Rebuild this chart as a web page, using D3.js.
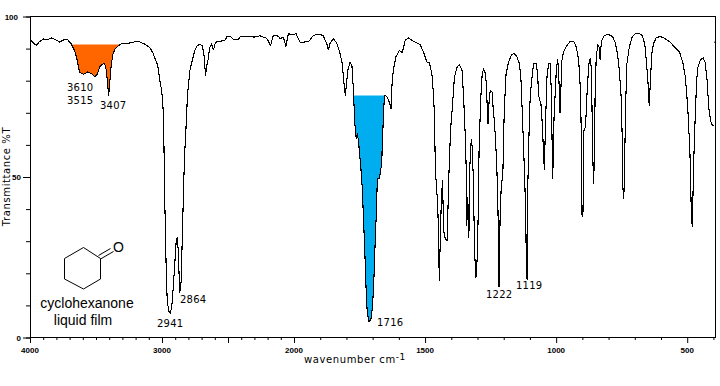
<!DOCTYPE html>
<html>
<head>
<meta charset="utf-8">
<script src="https://cdn.jsdelivr.net/npm/d3@7"></script>
<style>
  html, body { margin: 0; padding: 0; background: #fff; }
  svg { display: block; }
  .tickLabel { font: bold 8px "Liberation Sans", sans-serif; fill: #000; }
  .peak { font: 10px "DejaVu Sans", sans-serif; letter-spacing: 0.25px; fill: #000; }
  .title { font: 10px "DejaVu Sans", sans-serif; letter-spacing: 0.6px; fill: #000; }
  .name { font: 14px "Liberation Sans", sans-serif; fill: #000; }
</style>
</head>
<body>
<div id="chart-container"></div>
<script>
// trace: wavenumber (cm-1) and %T, same order
const wavenumbers = [
  4000,3989,3953,3928,3898,3867,3837,3806,3776,3746,3715,3685,3662,3647,3624,3594,3564,3533,3510,3488,
  3472,3442,3427,3416,3404,3397,3389,3374,3359,3328,3306,3260,3207,3169,3131,3093,3070,3047,3032,3017,
  3002,2991,2987,2979,2966,2960,2949,2937,2926,2919,2903,2892,2884,2877,2869,2865,2854,2850,2843,2835,
  2827,2820,2807,2789,2769,2751,2734,2713,2696,2683,2670,2663,2650,2638,2625,2610,2594,2562,2524,2506,
  2486,2461,2423,2405,2296,2258,2207,2177,2157,2119,2106,2081,2061,2043,2017,1992,1977,1965,1943,1926,
  1913,1890,1875,1869,1863,1850,1837,1824,1816,1809,1804,1795,1786,1779,1774,1768,1763,1758,1753,1751,
  1745,1739,1735,1730,1725,1721,1715,1707,1701,1696,1692,1686,1682,1674,1665,1664,1659,1655,1646,1636,
  1630,1626,1621,1612,1598,1587,1576,1564,1545,1519,1506,1493,1483,1474,1468,1464,1462,1459,1452,1448,
  1446,1442,1439,1434,1432,1429,1423,1416,1414,1410,1407,1403,1397,1388,1378,1369,1359,1353,1346,1343,
  1342,1341,1337,1333,1331,1330,1324,1320,1317,1314,1310,1306,1301,1297,1294,1288,1282,1277,1269,1266,
  1260,1255,1251,1244,1241,1236,1231,1226,1223,1220,1218,1214,1210,1203,1198,1191,1182,1169,1160,1150,
  1140,1134,1128,1121,1116,1114,1111,1109,1105,1101,1095,1086,1077,1070,1068,1064,1058,1053,1045,1041,
  1035,1029,1023,1019,1013,1008,1000,995,991,985,978,972,959,946,933,923,914,908,905,904,
  901,897,895,894,888,881,875,870,866,864,861,857,854,851,847,841,836,832,830,826,
  816,801,785,775,766,759,752,748,746,743,739,738,734,730,721,710,698,685,672,662,
  656,650,645,641,635,629,618,603,584,565,546,529,516,507,498,490,488,485,481,479,
  475,470,464,459,450,439,432,424,418,411,405,399
];
const transmittance = [
  93.1,92.4,91.0,92.2,93.0,92.8,93.3,92.8,92.0,92.7,92.8,91.3,89.4,87.2,82.6,82.0,82.7,82.2,81.2,82.2,
  84.4,85.4,84.7,80.7,75.4,78.5,83.2,87.9,89.7,91.0,91.6,91.6,92.1,92.1,91.4,90.3,88.8,86.3,84.7,80.1,
  76.9,70.7,64.5,42.7,17.1,11.5,8.1,7.6,9.7,13.1,23.1,30.2,31.2,27.1,17.8,14.1,17.8,25.2,36.4,48.9,
  58.3,63.6,75.4,83.2,86.6,89.4,90.9,91.3,90.9,88.5,81.6,84.2,86.8,90.4,91.5,89.6,92.0,92.3,92.5,93.9,
  93.9,92.9,92.9,93.8,93.6,94.0,93.2,91.0,94.1,93.9,93.1,93.6,90.7,94.6,94.4,94.6,92.0,92.0,92.3,94.1,
  94.4,94.2,91.5,89.6,91.5,93.1,91.7,88.4,85.3,79.0,75.4,83.2,85.8,84.7,78.0,66.7,62.1,63.5,60.4,58.3,
  53.0,45.8,37.1,27.1,15.3,8.4,5.0,5.5,9.4,16.2,26.2,38.6,49.5,49.5,54.5,58.3,68.6,75.4,75.1,73.3,
  71.2,79.0,83.2,87.3,89.4,88.7,92.5,93.4,92.3,91.3,88.9,85.8,85.5,82.1,75.9,68.6,58.3,50.2,41.7,30.2,
  17.8,30.2,39.6,48.9,43.6,33.3,30.8,30.2,35.5,48.9,55.1,64.5,70.7,81.1,84.2,85.0,83.2,74.9,61.6,52.0,
  39.6,34.9,43.6,31.2,39.6,52.0,61.6,59.3,52.0,39.6,24.9,18.8,25.0,39.6,58.3,73.8,82.1,83.7,82.1,78.0,
  66.6,74.9,76.9,76.4,72.3,67.6,61.4,52.0,44.9,30.2,15.7,36.4,45.8,52.0,70.7,82.1,85.8,88.2,88.4,87.5,
  85.3,80.1,67.6,52.0,38.6,24.0,18.1,43.7,58.3,71.7,79.0,85.3,85.5,82.1,75.9,74.4,72.8,66.6,52.3,65.5,
  81.1,85.3,85.3,78.0,49.5,68.6,82.1,86.5,84.2,69.9,86.3,88.9,91.0,92.3,92.3,90.4,86.3,78.0,67.6,58.3,
  37.5,39.6,55.8,64.5,65.5,78.0,85.3,86.8,84.2,76.4,58.3,47.9,57.3,78.0,87.3,91.3,90.4,86.5,89.9,92.5,
  94.1,94.4,93.8,92.0,88.4,83.2,74.9,62.4,47.9,43.4,47.9,58.3,74.9,85.3,90.4,93.6,94.6,94.8,94.1,91.5,
  86.3,80.1,72.3,79.0,88.4,91.5,93.4,93.8,93.1,92.0,90.3,88.9,85.3,81.1,71.7,58.3,53.1,41.1,34.6,40.6,
  55.1,67.6,80.1,84.2,86.5,87.1,85.8,80.1,71.7,67.6,66.3,66.0
];

// peak labels as printed
const peakLabels = ["3610", "3515", "3407", "2941", "2864", "1716", "1222", "1119"];
const peakLabelPos = [[67, 91], [67, 104], [100, 109], [157, 327], [180, 303], [377, 326], [486, 298], [516, 289]];

const xMajorTicks = [4000, 3000, 2500, 2000, 1500, 1000, 500];
const xMajorLabels = [4000, 3000, 2000, 1500, 1000, 500];
const yLabelledTicks = [0, 50, 100];
const yTicks = [0, 10, 20, 30, 40, 50, 60, 70, 80, 90, 100];

// shaded bands: [high wavenumber, low wavenumber, %T of the flat top]
const oBand = [3685, 3306, 91.3];
const cBand = [1774, 1655, 75.4];

const margin = {top: 16, right: 5, bottom: 49, left: 30};
const width = 720 - margin.left - margin.right;
const height = 386 - margin.top - margin.bottom;

const svg = d3.select("#chart-container")
  .append("svg")
    .attr("width", 720)
    .attr("height", 386)
  .append("g")
    .attr("transform", `translate(${margin.left},${margin.top})`);

// the x scale is compressed above 2000 cm-1, so it has two pieces
const xScale = d3.scaleLinear()
  .domain([4000, 2000, 394])
  .range([0, 264, width]);
const yScale = d3.scaleLinear()
  .domain([0, 100])
  .range([height + 0.5, 0.5]);

const points = wavenumbers.map((w, i) => ({w: w, t: transmittance[i]}));

// filled bands go under the line
function drawBand(band, colour) {
  const area = d3.area()
    .x(d => xScale(d.w))
    .y0(yScale(band[2]))
    .y1(d => yScale(Math.min(d.t, band[2])));
  svg.append("path")
    .datum(points.filter(d => d.w <= band[0] && d.w >= band[1]))
    .attr("fill", colour)
    .attr("d", area);
}
drawBand(oBand, "#ff6600");
drawBand(cBand, "#00aeef");

// ticks
const xMinor = d3.range(4000, 399, -100).filter(v => !xMajorTicks.includes(v));
const xAxisPos = `translate(0,${height})`;
svg.append("g").attr("transform", xAxisPos)
  .call(d3.axisBottom(xScale).tickValues(xMinor).tickSize(3).tickSizeOuter(0).tickFormat(""));
svg.append("g").attr("transform", xAxisPos)
  .call(d3.axisBottom(xScale).tickValues(xMajorTicks).tickSize(6).tickSizeOuter(0).tickFormat(""));
svg.append("g")
  .call(d3.axisLeft(yScale).tickValues(yTicks).tickSize(4).tickSizeOuter(0).tickFormat(""));
svg.append("g")
  .call(d3.axisLeft(yScale).tickValues(yLabelledTicks).tickSize(7).tickSizeOuter(0).tickFormat(""));

// frame
svg.append("rect")
  .attr("x", 0.5)
  .attr("y", 0.5)
  .attr("width", width)
  .attr("height", height)
  .attr("fill", "none")
  .attr("stroke", "#000");

// small mark on the right edge
svg.append("line")
  .attr("x1", width - 1)
  .attr("x2", width)
  .attr("y1", yScale(92))
  .attr("y2", yScale(92))
  .attr("stroke", "#000");

// spectrum, left aliased like the original bitmap
const line = d3.line()
  .x(d => xScale(d.w))
  .y(d => yScale(d.t));
svg.append("path")
  .datum(points)
  .attr("fill", "none")
  .attr("stroke", "#000")
  .attr("stroke-width", 1.1)
  .attr("stroke-linejoin", "round")
  .attr("shape-rendering", "crispEdges")
  .attr("d", line);

// tick labels
svg.selectAll(".xLabel")
  .data(xMajorLabels)
  .enter().append("text")
  .attr("class", "tickLabel")
  .attr("text-anchor", "middle")
  .attr("x", d => xScale(d))
  .attr("y", height + 16)
  .text(d => d);
svg.selectAll(".yLabel")
  .data(yLabelledTicks)
  .enter().append("text")
  .attr("class", "tickLabel")
  .attr("text-anchor", "end")
  .attr("x", d => d === 100 ? -12 : -9)
  .attr("y", d => yScale(d) + 3)
  .text(d => d);

// axis titles
const xTitle = svg.append("text")
  .attr("class", "title")
  .attr("text-anchor", "middle")
  .attr("x", 325)
  .attr("y", height + 26);
xTitle.append("tspan").text("wavenumber cm");
xTitle.append("tspan").attr("dy", -3).attr("font-size", 9).text("-1");

svg.append("text")
  .attr("class", "title")
  .attr("text-anchor", "middle")
  .attr("transform", `translate(${-20},${height / 2}) rotate(-90)`)
  .text("Transmittance %T");

// peak labels, page coordinates
peakLabels.forEach((label, i) => {
  svg.append("text")
    .attr("class", "peak")
    .attr("x", peakLabelPos[i][0] - margin.left)
    .attr("y", peakLabelPos[i][1] - margin.top)
    .text(label);
});

// cyclohexanone drawing
const mol = svg.append("g")
  .attr("transform", `translate(${-margin.left},${-margin.top})`)
  .attr("fill", "none")
  .attr("stroke", "#000");
mol.append("path")
  .attr("d", "M64.5 258.5L83.5 247.5L100.5 258.5V279L83.5 289L64.5 279Z");
mol.append("path")
  .attr("d", "M100.5 259L113.5 251.5M98.5 255.5L110.5 248.5");
mol.append("text")
  .attr("x", 113)
  .attr("y", 252)
  .attr("fill", "#000")
  .attr("stroke", "none")
  .attr("font-family", "Liberation Sans")
  .attr("font-size", 14)
  .text("O");
mol.append("text")
  .attr("class", "name")
  .attr("x", 87)
  .attr("y", 308)
  .attr("text-anchor", "middle")
  .attr("stroke", "none")
  .text("cyclohexanone");
mol.append("text")
  .attr("class", "name")
  .attr("x", 83)
  .attr("y", 325)
  .attr("text-anchor", "middle")
  .attr("stroke", "none")
  .text("liquid film");
</script>
</body>
</html>
